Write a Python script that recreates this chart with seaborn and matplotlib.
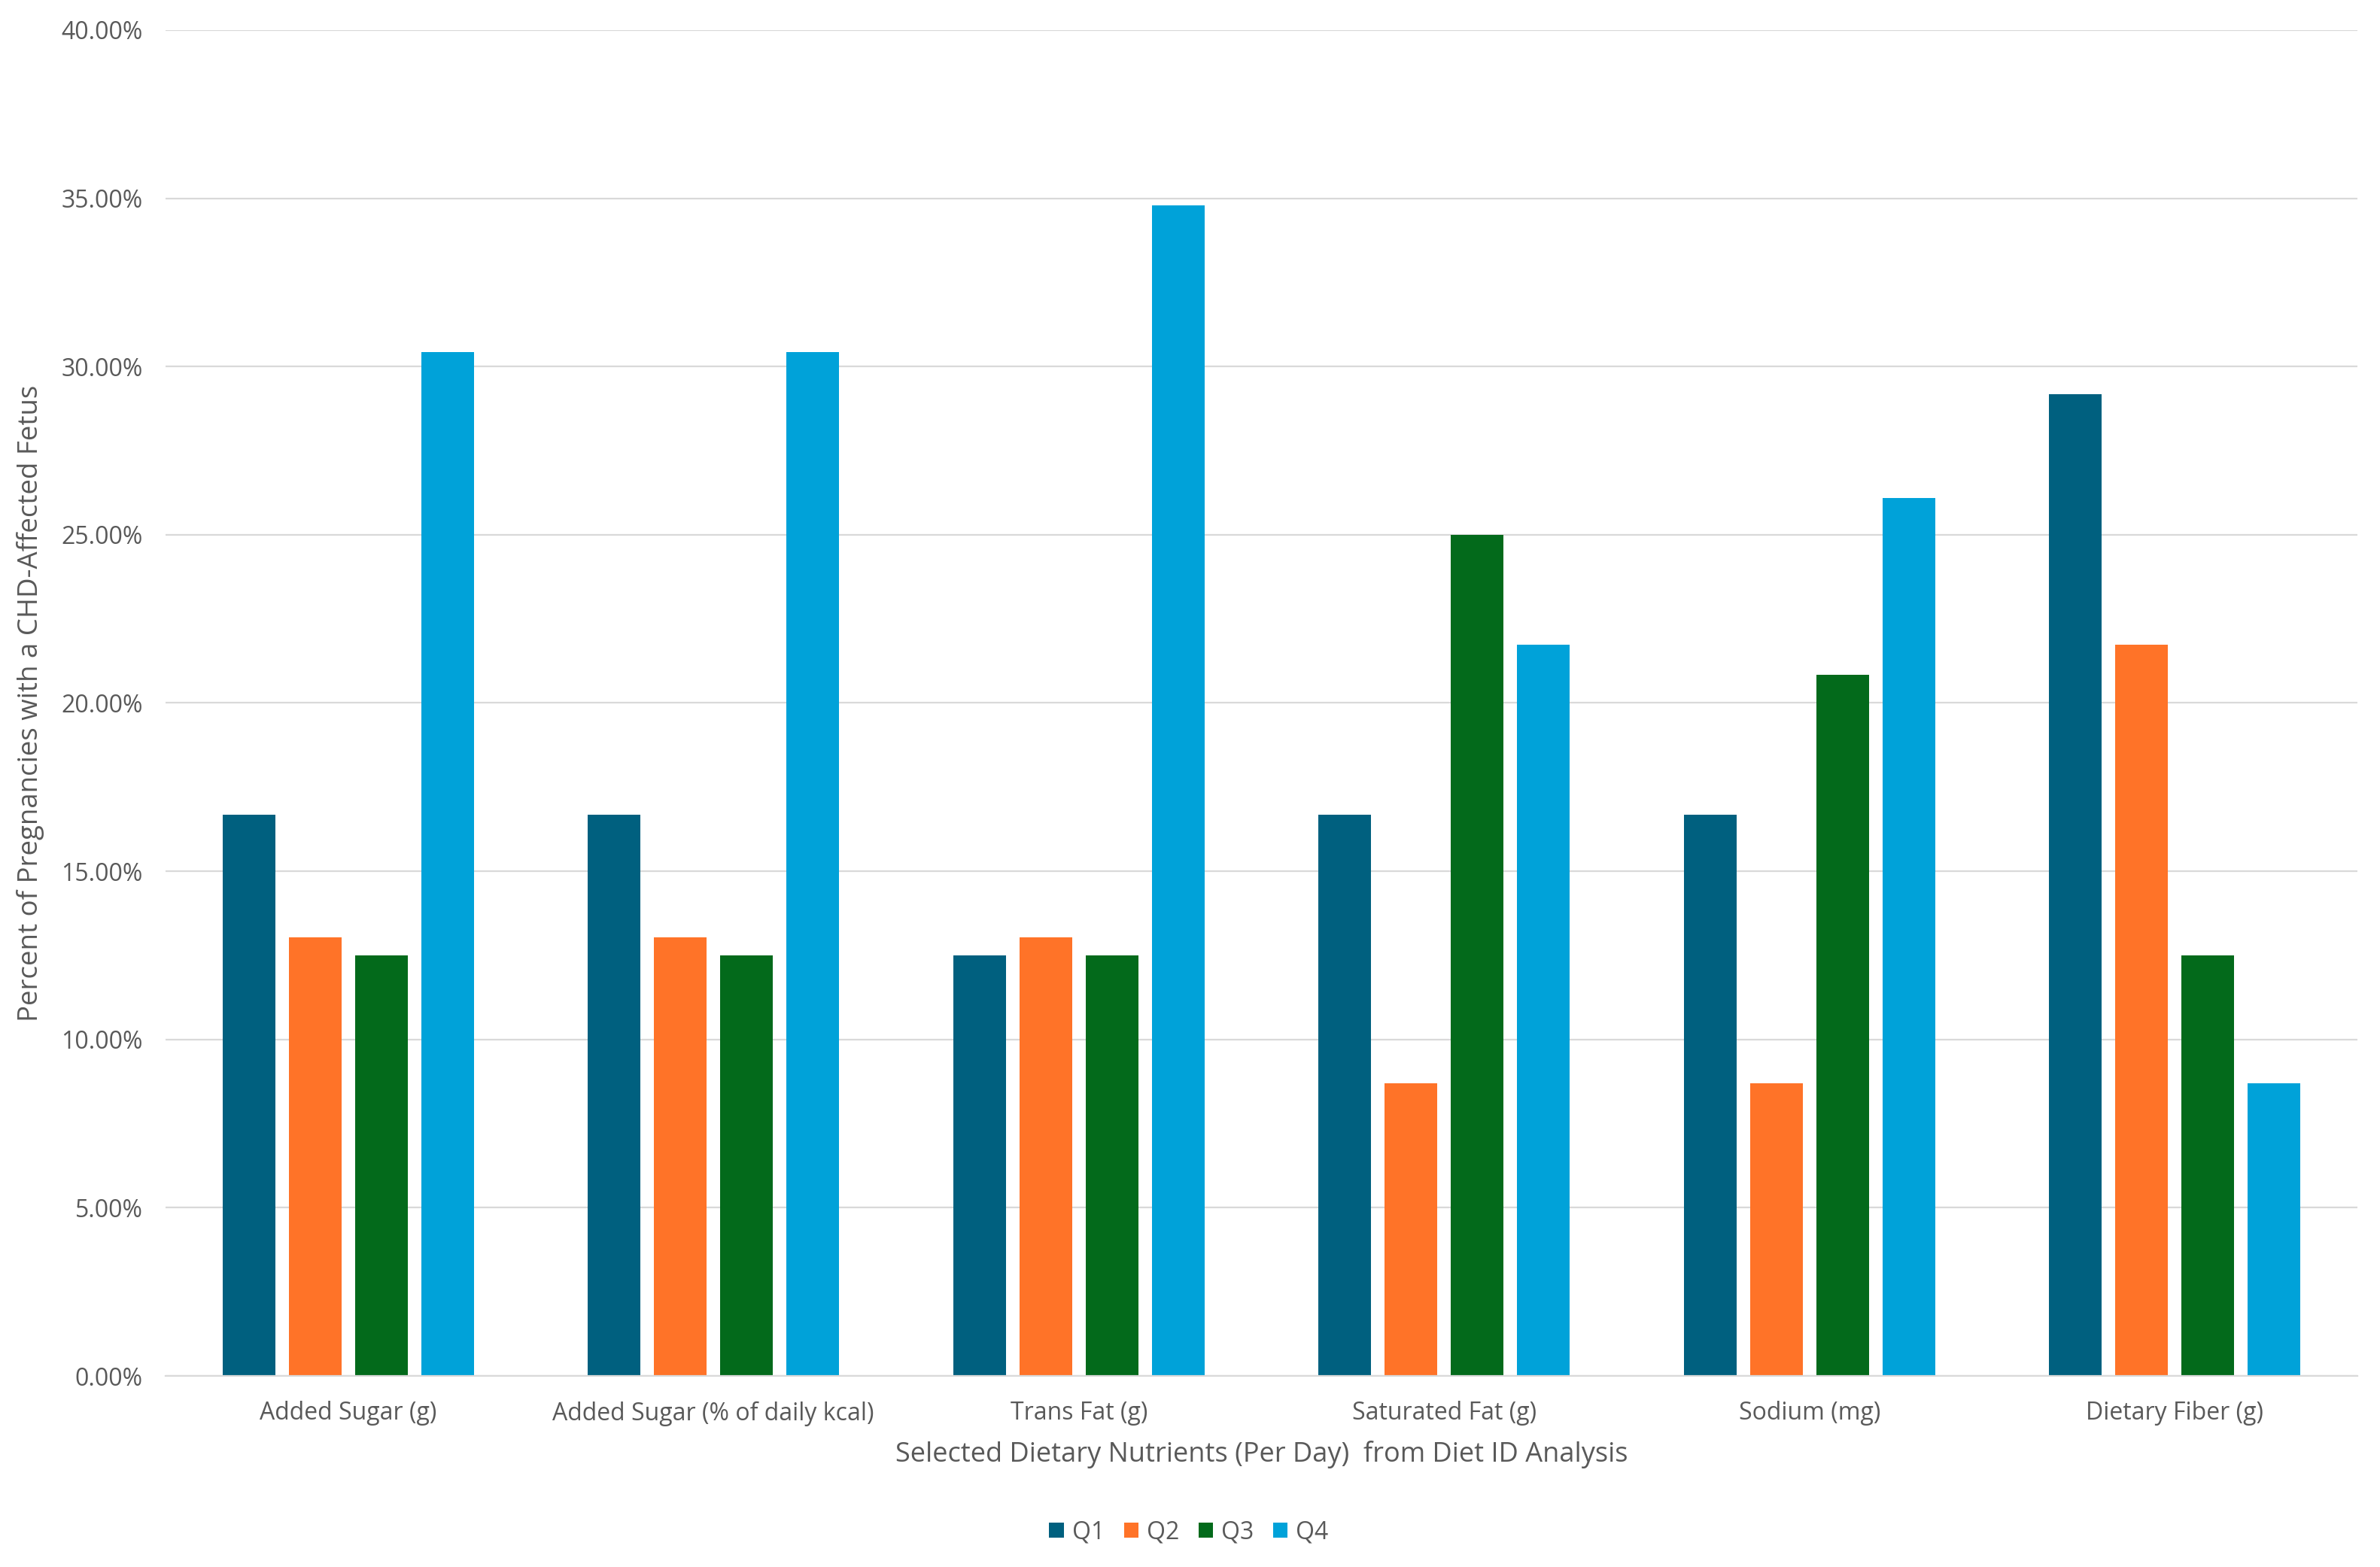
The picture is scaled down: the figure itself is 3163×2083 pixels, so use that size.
import matplotlib
matplotlib.use("Agg")
import matplotlib.pyplot as plt
import seaborn as sns
import pandas as pd
from matplotlib.ticker import FuncFormatter, FixedLocator
from matplotlib.patches import Patch

categories = ["Added Sugar (g)", "Added Sugar (% of daily kcal)", "Trans Fat (g)",
              "Saturated Fat (g)", "Sodium (mg)", "Dietary Fiber (g)"]
quartiles = ["Q1", "Q2", "Q3", "Q4"]
q1 = [16.67, 16.67, 12.50, 16.67, 16.67, 29.17]
q2 = [13.04, 13.04, 13.04, 8.70, 8.70, 21.74]
q3 = [12.50, 12.50, 12.50, 25.00, 20.83, 12.50]
q4 = [30.43, 30.43, 34.78, 21.74, 26.09, 8.70]
colors = ["#00607F", "#FF7328", "#036A1B", "#00A2D9"]

rows = []
for q, vals in zip(quartiles, [q1, q2, q3, q4]):
    for c, v in zip(categories, vals):
        rows.append({"Nutrient": c, "Quartile": q, "Value": v})
df = pd.DataFrame(rows)

sns.set_style("white")
plt.rcParams["font.family"] = ["Open Sans", "DejaVu Sans"]
text_color = "#595959"

fig = plt.figure(figsize=(15.815, 10.415), dpi=200)
ax = fig.add_axes([220/3163, 1 - 1829/2083, (3133-220)/3163, (1829-40)/2083])

sns.barplot(data=df, x="Nutrient", y="Value", hue="Quartile", order=categories,
            hue_order=quartiles, palette=colors, width=0.725, gap=0.2,
            saturation=1, linewidth=0, errorbar=None, ax=ax, legend=False)

ax.set_ylim(0, 40)
ax.set_xlim(-0.5, len(categories) - 0.5)
ax.yaxis.set_major_locator(FixedLocator([0, 5, 10, 15, 20, 25, 30, 35, 40]))
ax.yaxis.set_major_formatter(FuncFormatter(lambda v, p: f"{v:.2f}%"))
ax.grid(axis="y", color="#D9D9D9", linewidth=0.8)
ax.set_axisbelow(True)
for s in ["top", "right", "left"]:
    ax.spines[s].set_visible(False)
ax.spines["bottom"].set_color("#D9D9D9")
ax.spines["bottom"].set_linewidth(0.8)

ax.tick_params(axis="y", length=0, pad=11, labelsize=11.5, labelcolor=text_color)
ax.tick_params(axis="x", which="major", length=0, pad=12, labelsize=11.5, labelcolor=text_color)
ax.set_xticks([i - 0.5 for i in range(len(categories) + 1)], minor=True)
ax.tick_params(axis="x", which="minor", length=5, width=0.8, color="#D9D9D9")

ax.set_xlabel("Selected Dietary Nutrients (Per Day)  from Diet ID Analysis",
              fontsize=13, color=text_color, labelpad=7)
ax.set_ylabel("Percent of Pregnancies with a CHD-Affected Fetus",
              fontsize=13.2, color=text_color, labelpad=8)

handles = [Patch(facecolor=c, edgecolor="none", label=q) for c, q in zip(colors, quartiles)]
fig.legend(handles=handles, loc="center", bbox_to_anchor=(1580/3163, 1 - 2037/2083),
           ncol=4, frameon=False, fontsize=11.5, labelcolor=text_color,
           handlelength=0.6, handleheight=0.6, handletextpad=0.35, columnspacing=0.8)

fig.savefig("out.png", dpi=200)
